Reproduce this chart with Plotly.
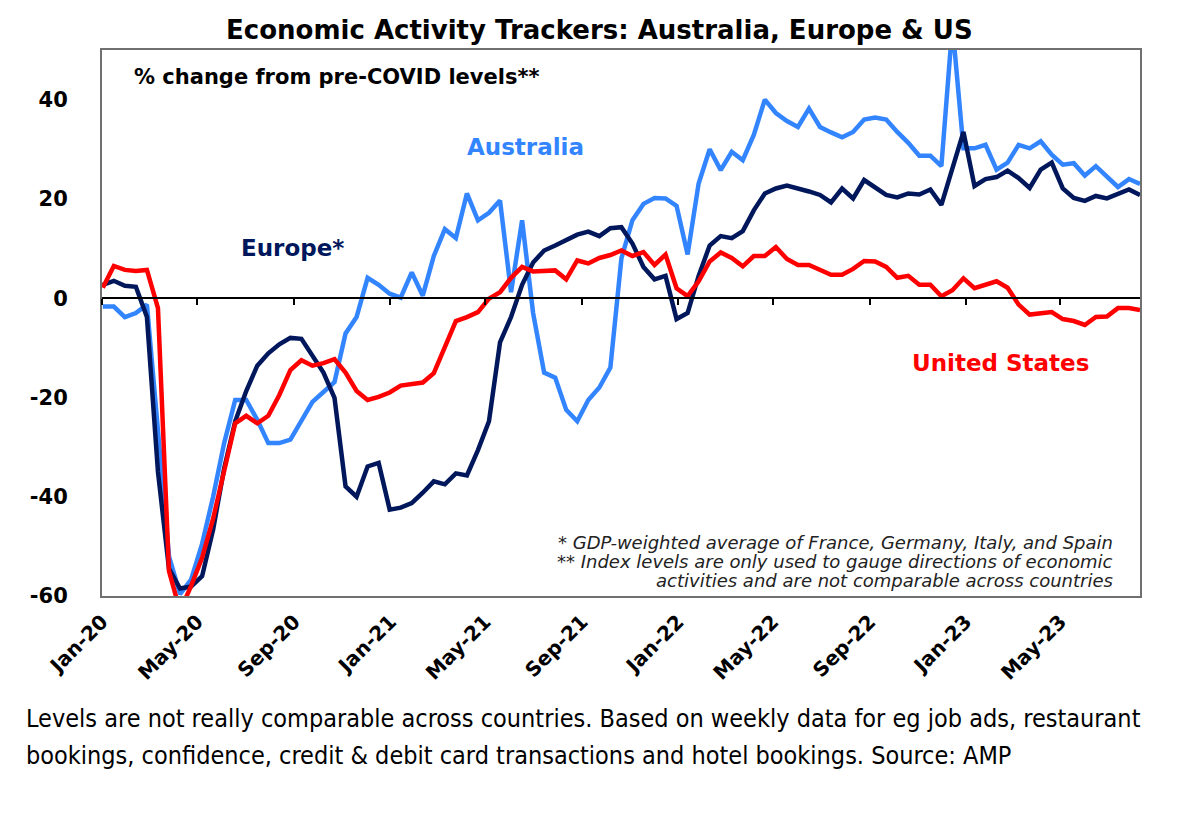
import pandas as pd
import plotly.graph_objects as go

# fortnightly observations, Jan 2020 - Aug 2023
dates = pd.date_range("2020-01-02", periods=95, freq="14D")

australia = [
    -1.7, -1.7, -3.8, -3.0, -1.3, -28, -52, -59.6, -56.7, -49.5, -40, -29.2,
    -20.5, -20.5, -24.5, -29.2, -29.2, -28.5, -24.8, -20.9, -18.9, -16.9, -7.1, -3.8,
    4.1, 2.7, 0.9, 0.1, 5.2, 0.5, 8.5, 13.9, 12.1, 21.1, 15.7, 17.2,
    19.7, 1.2, 15.7, -3.0, -15, -16, -22.5, -24.8, -20.5, -18, -14,
    8, 15.7, 19, 20.2, 20.1, 18.6, 8.8, 23.1, 30, 25.8, 29.5, 27.8,
    32.9, 40, 37.3, 35.7, 34.5, 38.2, 34.5, 33.4, 32.4, 33.5, 36, 36.4,
    36, 33.5, 31.3, 28.7, 28.7, 26.6, 55, 30.2, 30.2, 30.9, 25.9, 27.3,
    30.9, 30.2, 31.6, 28.9, 26.9, 27.2, 24.7, 26.6, 24.4, 22.4, 24, 23,
]
europe = [
    2.7, 3.5, 2.5, 2.3, -3.8, -35, -54.5, -58.5, -58.1, -56, -46.6, -34.3,
    -24.8, -18.7, -13.6, -11.1, -9.3, -8, -8.2, -11.8, -15, -20.1, -37.9, -40,
    -33.9, -33.2, -42.6, -42.2, -41.3, -39.2, -36.9, -37.5, -35.3, -35.7, -30.6, -24.8,
    -8.9, -3.8, 2.7, 7.2, 9.6, 10.6, 11.6, 12.8, 13.4, 12.5, 14.1,
    14.3, 11, 6.3, 3.8, 4.5, -4.2, -3.0, 4.5, 10.6, 12.5, 12.1, 13.5,
    17.7, 21.1, 22.1, 22.7, 22.2, 21.5, 20.8, 19.3, 22.1, 20.1, 23.8, 22.2,
    20.8, 20.3, 21.1, 20.9, 21.9, 18.8, 26, 33.5, 22.6, 24, 24.4, 25.7,
    24.2, 22.2, 25.9, 27.3, 22.1, 20.2, 19.6, 20.6, 20.1, 21.1, 21.9, 20.8,
]
united_states = [
    2.1, 6.5, 5.7, 5.5, 5.7, -2, -55, -63, -58, -52.3, -44.4, -35,
    -25.2, -23.7, -25.2, -23.7, -19.5, -14.5, -12.5, -13.6, -13.1, -12.3, -15, -18.7,
    -20.5, -19.9, -19, -17.6, -17.2, -17, -15.1, -9.6, -4.6, -3.8, -2.8, -0.1,
    1.2, 4.1, 6.3, 5.4, 5.6, 5.6, 3.8, 7.6, 7.0, 8.1, 8.7,
    9.6, 8.5, 9.3, 6.7, 8.8, 2.0, 0.4, 3.4, 7.4, 9.2, 8.1, 6.4,
    8.5, 8.5, 10.3, 7.9, 6.7, 6.7, 5.6, 4.7, 4.7, 5.9, 7.5, 7.4,
    6.3, 4.1, 4.5, 2.7, 2.7, 0.4, 1.6, 4.0, 2.0, 2.8, 3.4, 2.1,
    -1.3, -3.3, -3, -2.8, -4.2, -4.6, -5.4, -3.8, -3.7, -2.0, -2.0, -2.4,
]

y_ticks = [-60, -40, -20, 0, 20, 40]
y_tick_labels = ["-60", "-40", "-20", "0", "20", "40"]

BLUE = "#3385FF"
NAVY = "#00175C"
RED = "#FF0000"
FONT = "DejaVu Sans, Liberation Sans, sans-serif"

# the page puts the figure 8px in from the top-left corner
OFF = 8
W, H = 1189 - 2 * OFF, 816 - 2 * OFF
# plot area in page pixels (used to place the text labels)
L, R, T, B = 102, 1140, 50, 596


def px(x):
    return (x - L) / (R - L)


def py(y):
    return (B - y) / (B - T)


fig = go.Figure()
fig.add_trace(go.Scatter(x=dates, y=australia, mode="lines", line=dict(color=BLUE, width=4.5)))
fig.add_trace(go.Scatter(x=dates, y=europe, mode="lines", line=dict(color=NAVY, width=4.5)))
fig.add_trace(go.Scatter(x=dates, y=united_states, mode="lines", line=dict(color=RED, width=4.5)))
# empty trace so the zero-line axis (with its tick marks) is drawn
fig.add_trace(go.Scatter(x=dates[:1], y=[0], mode="lines", xaxis="x2", hoverinfo="skip"))

x_range = ["2020-01-01", "2023-08-10"]

fig.update_layout(
    width=W, height=H,
    margin=dict(l=L - OFF, r=W - (R - OFF), t=T - OFF, b=H - (B - OFF)),
    plot_bgcolor="white", paper_bgcolor="white",
    showlegend=False,
    font=dict(family=FONT, color="black"),
    xaxis=dict(
        type="date", range=x_range, tick0="2020-01-01", dtick="M4", tickformat="%b-%y",
        tickangle=-45, ticks="", ticklabelstandoff=4,
        tickfont=dict(size=20, weight="bold"),
        showline=True, linecolor="#707070", linewidth=2, mirror=True,
        showgrid=False, zeroline=False,
    ),
    xaxis2=dict(
        type="date", range=x_range, tick0="2020-01-01", dtick="M4", matches="x",
        overlaying="x", anchor="free", position=60 / 110, side="bottom",
        showticklabels=False, ticks="outside", ticklen=6, tickwidth=1.5, tickcolor="black",
        showline=True, linecolor="black", linewidth=1.5, showgrid=False, zeroline=False,
    ),
    yaxis=dict(
        range=[-60, 50], tickvals=y_ticks, ticktext=y_tick_labels, ticks="",
        ticklabelstandoff=28,
        tickfont=dict(size=21, weight="bold"),
        showline=True, linecolor="#707070", linewidth=2, mirror=True,
        showgrid=False, zeroline=False,
    ),
)

notes = [
    # text, x px, y px, anchor, size, colour, weight, style
    ("Economic Activity Trackers: Australia, Europe & US", 599, 30, "center", 26, "black", "bold", "normal"),
    ("% change from pre-COVID levels**", 132, 77, "left", 21, "black", "bold", "normal"),
    ("Australia", 465, 147, "left", 23, BLUE, "bold", "normal"),
    ("Europe*", 239, 248, "left", 23, NAVY, "bold", "normal"),
    ("United States", 910, 363, "left", 23, RED, "bold", "normal"),
    ("* GDP-weighted average of France, Germany, Italy, and Spain", 1115, 542, "right", 18, "#222222", "normal", "italic"),
    ("** Index levels are only used to gauge directions of economic", 1115, 561, "right", 18, "#222222", "normal", "italic"),
    ("activities and are not comparable across countries", 1115, 580, "right", 18, "#222222", "normal", "italic"),
]
for text, x, y, anchor, size, color, weight, style in notes:
    fig.add_annotation(
        text=text, xref="paper", yref="paper", x=px(x), y=py(y),
        xanchor=anchor, yanchor="middle", showarrow=False,
        font=dict(family=FONT, size=size, color=color, weight=weight, style=style),
    )

caption = [
    ("Levels are not really comparable across countries. Based on weekly data for eg job ads, restaurant", 718),
    ("bookings, confidence, credit & debit card transactions and hotel bookings. Source: AMP", 755),
]
for text, y in caption:
    fig.add_annotation(
        text=text, xref="paper", yref="paper", x=px(24), y=py(y),
        xanchor="left", yanchor="middle", showarrow=False,
        font=dict(family="Liberation Sans Narrow, DejaVu Sans Condensed, sans-serif", size=25, color="black"),
    )

fig.write_html("out.html")
